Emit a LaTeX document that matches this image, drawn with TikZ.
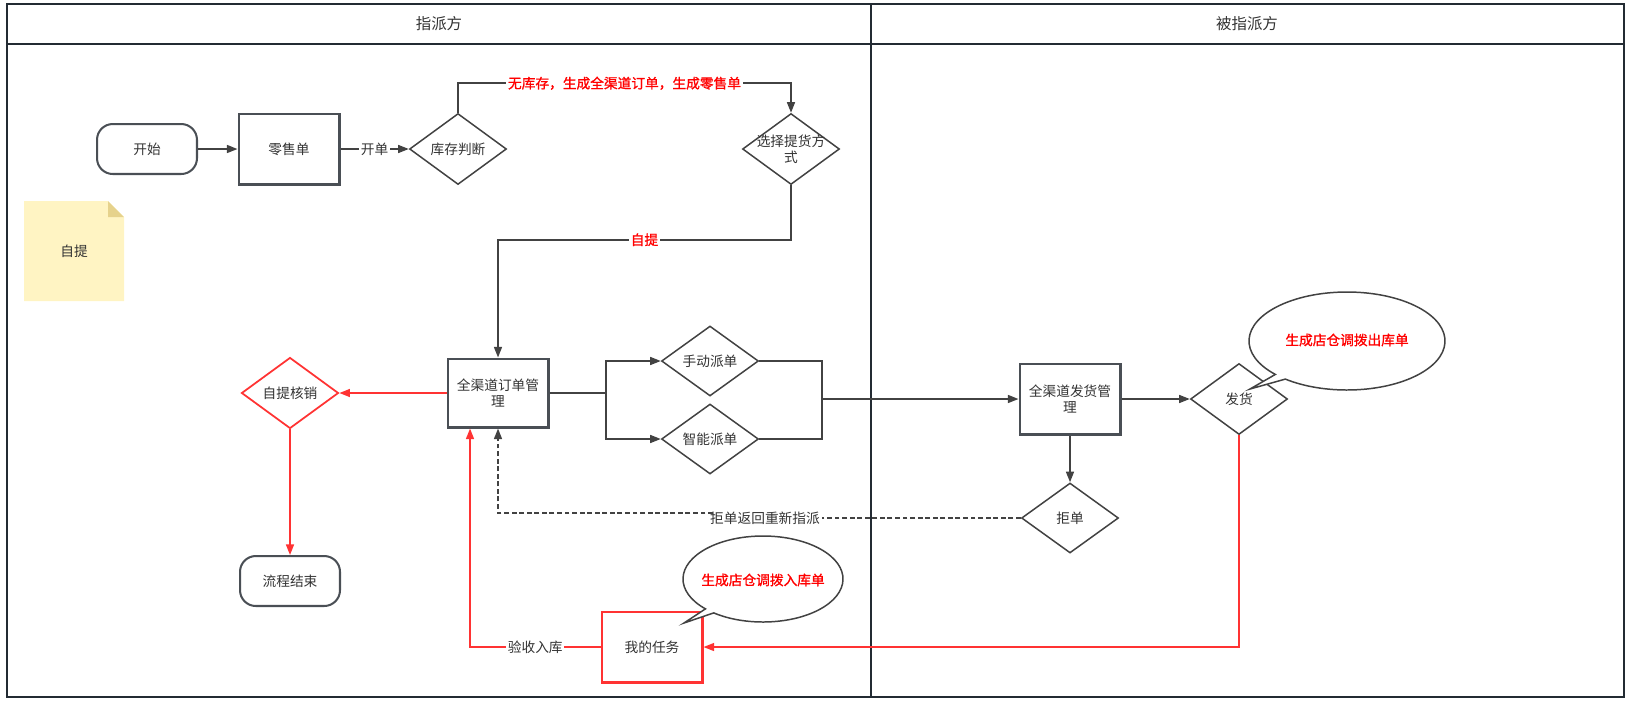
\documentclass[tikz,border=0pt]{standalone}
\usepackage{fontspec}
\setmainfont{Noto Sans CJK SC}
\newfontfamily\hotfont[FakeBold=1.2]{Noto Sans CJK SC}
\usepackage{tikz}
\usetikzlibrary{arrows.meta, shapes.geometric, calc}

\definecolor{lanegray}{HTML}{232B33}
\definecolor{linegray}{HTML}{424242}
\definecolor{boxgray}{HTML}{4A4F55}
\definecolor{inkgray}{HTML}{333333}
\definecolor{hotred}{HTML}{FF3333}
\definecolor{notefill}{HTML}{FFF4C3}
\definecolor{notefold}{HTML}{E6D28C}

\begin{document}
\begin{tikzpicture}[
        x=0.02cm,
        y=-0.02cm,
        font=\fontsize{7.8}{9}\selectfont,
        text=inkgray,
        box/.style={draw=boxgray,line width=1.15pt,fill=white,minimum width=2.02cm,minimum height=1.42cm,align=center,inner sep=1pt},
        term/.style={box,rounded corners=9pt,minimum width=2cm,minimum height=1cm},
        dia/.style={diamond,draw=linegray,line width=0.85pt,fill=white,minimum width=1.94cm,minimum height=1.42cm,inner sep=0pt},
        plain/.style={linegray,line width=0.9pt},
        flow/.style={plain,-{Triangle[length=6pt,width=4.5pt]}},
        hotflow/.style={flow,hotred},
        tag/.style={fill=white,inner sep=1pt,text=inkgray},
        hottag/.style={tag,text=red,font=\fontsize{7.8}{9}\selectfont\hotfont},
        bubble/.style={draw=linegray,line width=0.85pt,fill=white},
        lane/.style={lanegray,line width=1.1pt}
    ]
    \useasboundingbox (0,0) rectangle (1632,711);
    \draw[lane] (7,4) rectangle (1624,697);
    \draw[lane] (7,44) -- (1624,44);
    \draw[lane] (871,4) -- (871,697);
    \node[font=\fontsize{8.8}{10}\selectfont] (laneA) at (439,24) {指派方};
    \node[font=\fontsize{8.8}{10}\selectfont] (laneB) at (1247,24) {被指派方};

    \fill[notefill] (24,201) -- (108,201) -- (124,217) -- (124,301) -- (24,301) -- cycle;
    \fill[notefold] (108,201) -- (108,217) -- (124,217) -- cycle;
    \node (memo) at (74,251) {自提};

    \node[term] (start) at (147,149) {开始};
    \node[box] (retail) at (289,149) {零售单};
    \node[dia,label={center:库存判断}] (judge) at (458,149) {};
    \node[dia,label={[align=center]center:选择提货方\\式}] (pick) at (791,149) {};
    \node[box,minimum height=1.38cm] (order) at (498,393) {全渠道订单管\\理};
    \node[dia,draw=hotred,line width=1pt,label={center:自提核销}] (verify) at (290,393) {};
    \node[term] (finish) at (290,581) {流程结束};
    \node[dia,minimum height=1.4cm,label={center:手动派单}] (manual) at (710,361) {};
    \node[dia,minimum height=1.4cm,label={center:智能派单}] (smart) at (710,439) {};
    \node[box] (ship) at (1070,399) {全渠道发货管\\理};
    \node[dia,label={center:发货}] (deliver) at (1239,399) {};
    \node[dia,minimum height=1.4cm,label={center:拒单}] (reject) at (1070,518) {};
    \node[box,draw=hotred] (task) at (652,647) {我的任务};

    \draw[flow] (start) -- (retail);
    \draw[flow] (retail) -- node[tag] (kaidan) {开单} (judge);
    \draw[flow] (judge.north) -- ++(0,-29.5) -| node[hottag,pos=.25] {无库存，生成全渠道订单，生成零售单} (pick.north);
    \draw[flow] (pick.south) -- ++(0,54.5) -| node[hottag,pos=.25] {自提} (order.north);
    \draw[hotflow] (order.west) -- (verify.east);
    \draw[hotflow] (verify.south) -- (finish.north);
    \draw[plain] (order.east) -- ++(56.5,0) coordinate (fork);
    \draw[flow] (fork) |- (manual.west);
    \draw[flow] (fork) |- (smart.west);
    \draw[plain] (manual.east) -- ++(63,0) |- (smart.east);
    \coordinate (join) at (821,399);
    \draw[flow] (join) -- (ship.west);
    \draw[flow] (ship.east) -- (deliver.west);
    \draw[flow] (ship.south) -- (reject.north);

    \node[tag] (back) at (765,518) {拒单返回重新指派};
    \coordinate (backend) at (713,513);
    \draw[plain,dash pattern=on 2.8pt off 1.5pt] (reject.west) -- (reject.west -| back.east);
    \draw[flow,dash pattern=on 2.8pt off 1.5pt] (backend) -| (order.south);

    \coordinate (lift) at (470,0);
    \draw[hotflow] (deliver.south) |- (task.east);
    \draw[hotflow] (task.west) -| node[tag,pos=.25] (accept) {验收入库} (order.south -| lift);

    \draw[bubble] (1250,389) -- ($(1347,341)+(137:98 and 49)$)
        arc[start angle=137, end angle=489, x radius=98, y radius=49] -- cycle;
    \node[text=red,font=\fontsize{7.8}{9}\selectfont\hotfont] (outnote) at (1347,340) {生成店仓调拨出库单};
    \draw[bubble] (684,623) -- ($(763,579)+(136:80 and 43)$)
        arc[start angle=136, end angle=488, x radius=80, y radius=43] -- cycle;
    \node[text=red,font=\fontsize{7.8}{9}\selectfont\hotfont] (innote) at (763,580) {生成店仓调拨入库单};
\end{tikzpicture}
\end{document}
